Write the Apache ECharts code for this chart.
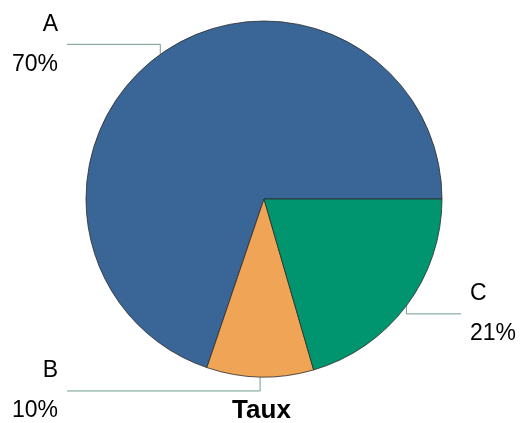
<!DOCTYPE html>
<html>
<head>
<meta charset="utf-8">
<script src="https://cdn.jsdelivr.net/npm/echarts@6/dist/echarts.min.js"></script>
<style>
  html, body { margin: 0; padding: 0; background: #fff; }
  #chart { width: 523px; height: 423px; }
</style>
</head>
<body>
<div id="chart"></div>
<script>
// data (shares, labels show them rounded)
var categories = ['A', 'B', 'C']
var values = [69.8, 9.7, 20.5]
var colors = ['#3a6597', '#f0a556', '#00956f']

// where each leader line bends / ends, per slice
var leader = [
  {rise: -10, endX: 67, side: 'left'},
  {rise: 14, endX: 67, side: 'left'},
  {rise: 8, endX: 461, side: 'right'}
]

var chart = echarts.init(document.getElementById('chart'))

var pieData = categories.map(function (name, i) {
  return {name: name, value: values[i], itemStyle: {color: colors[i]}}
})

var option = {
  animation: false,
  title: {
    text: 'Taux',
    left: 'center',
    top: 393,
    textStyle: {fontFamily: 'Liberation Sans', fontSize: 26, fontWeight: 'bold', color: '#000'}
  },
  series: [{
    type: 'pie',
    center: [264, 199],
    radius: 178,
    startAngle: 0,
    clockwise: false,
    data: pieData,
    itemStyle: {borderColor: '#2b2b2b', borderWidth: 0.8},
    emphasis: {disabled: true},
    label: {
      show: true,
      position: 'outside',
      formatter: function (p) { return p.name + '\n' + Math.round(p.value) + '%' },
      fontFamily: 'Liberation Sans',
      fontSize: 23,
      lineHeight: 40,
      color: '#000'
    },
    labelLine: {
      show: true,
      length: 10,
      length2: 10,
      lineStyle: {color: '#6f9d90', width: 1}
    },
    labelLayout: function (params) {
      var cfg = leader[params.dataIndex]
      var p0 = params.labelLinePoints ? params.labelLinePoints[0] : [0, 0]
      var lineY = p0[1] + cfg.rise
      var left = cfg.side === 'left'
      return {
        x: left ? cfg.endX - 9 : cfg.endX + 9,
        y: lineY,
        align: left ? 'right' : 'left',
        verticalAlign: 'middle',
        labelLinePoints: [p0, [p0[0], lineY], [cfg.endX, lineY]]
      }
    }
  }]
}
chart.setOption(option)
</script>
</body>
</html>
